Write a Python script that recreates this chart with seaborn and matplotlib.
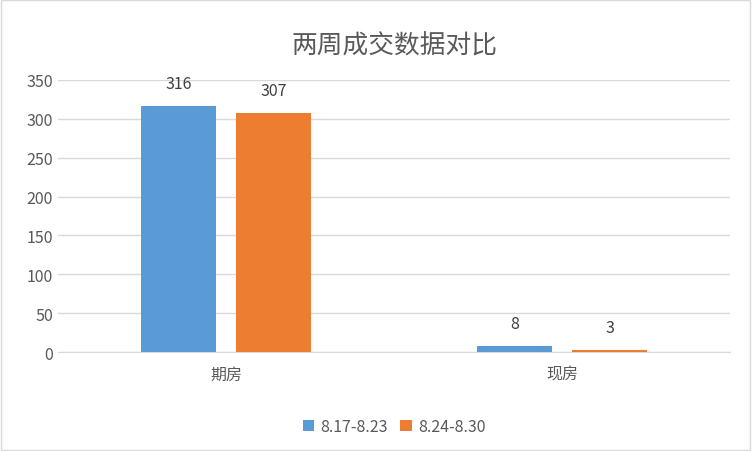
import matplotlib
matplotlib.use("Agg")
import matplotlib.pyplot as plt
import seaborn as sns
import pandas as pd

categories = ["期房", "现房"]
series = ["8.17-8.23", "8.24-8.30"]
week1 = [316, 8]
week2 = [307, 3]
colors = ["#5B9BD5", "#ED7D31"]

df = pd.DataFrame({
    "cat": categories * 2,
    "week": [series[0]] * 2 + [series[1]] * 2,
    "val": week1 + week2,
})

sns.set_style("white")
plt.rcParams["font.family"] = ["Noto Sans CJK SC", "DejaVu Sans"]

fig = plt.figure(figsize=(7.52, 4.52), dpi=100)
ax = fig.add_axes([0.077, 0.219, 0.894, 0.602])
sns.barplot(data=df, x="cat", y="val", hue="week", palette=colors, saturation=1,
            width=0.565, gap=0.21, ax=ax, zorder=3, linewidth=0)

for cont in ax.containers:
    ax.bar_label(cont, fmt="%d", padding=10, fontsize=11.5, color="#404040")

ax.set_ylim(0, 350)
ax.set_yticks(range(0, 351, 50))
ax.yaxis.grid(True, color="#D9D9D9", lw=1, zorder=0)
for s in ["top", "right", "left"]:
    ax.spines[s].set_visible(False)
ax.spines["bottom"].set_color("#D9D9D9")
ax.tick_params(axis="both", length=0, labelsize=11.5, labelcolor="#595959")
ax.tick_params(axis="x", pad=10)
ax.set_xlabel("")
ax.set_ylabel("")
ax.set_title("两周成交数据对比", fontsize=18.5, color="#595959", pad=20)

ax.legend(loc="upper center", bbox_to_anchor=(0.5, -0.19), ncol=2, frameon=False,
          fontsize=11.5, handlelength=0.7, handleheight=0.7, columnspacing=0.8,
          handletextpad=0.4, labelcolor="#595959")

fig.patches.append(plt.Rectangle((0.001, 0.002), 0.997, 0.995, transform=fig.transFigure,
                                 fill=False, edgecolor="#D9D9D9", lw=1))
fig.savefig("out.png", dpi=100)
